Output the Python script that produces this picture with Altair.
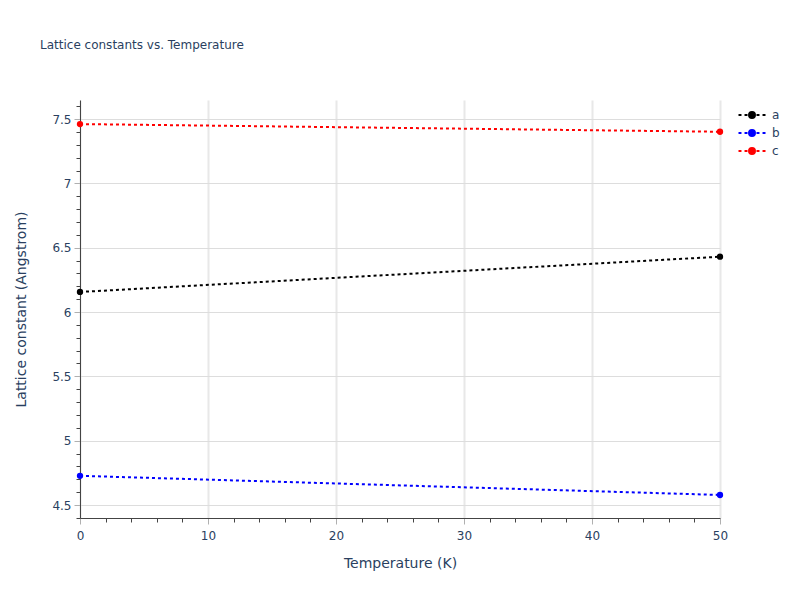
import altair as alt
import pandas as pd

temperature = [0, 50]
a_vals = [6.156, 6.430]
b_vals = [4.727, 4.578]
c_vals = [7.461, 7.401]
series_names = ["a", "b", "c"]
series_colors = ["black", "blue", "red"]

x_ticks = list(range(0, 51, 2))
y_ticks = [round(4.4 + 0.1 * i, 1) for i in range(33)]

rows = []
for name, vals in zip(series_names, [a_vals, b_vals, c_vals]):
    for t, v in zip(temperature, vals):
        rows.append({"Temperature": t, "value": v, "series": name})
df = pd.DataFrame(rows)

FONT = "DejaVu Sans"
TXT = "#2a3f5f"

LEGEND_SYMBOL = (
    "M-1.5,0L-1.17,0M-0.83,0L-0.5,0M0.5,0L0.83,0M1.17,0L1.5,0"
    "M-0.33,0A0.33,0.33,0,1,0,0.33,0A0.33,0.33,0,1,0,-0.33,0Z"
)

color = alt.Color(
    "series:N",
    scale=alt.Scale(domain=series_names, range=series_colors),
    legend=alt.Legend(
        title=None,
        orient="none",
        legendX=662,
        legendY=5,
        symbolType=LEGEND_SYMBOL,
        symbolSize=324,
        symbolStrokeWidth=2,
        labelFont=FONT,
        labelFontSize=12,
        labelColor=TXT,
        rowPadding=1,
        labelOffset=10,
    ),
)

MAJ_X = "datum.value % 10 === 0"
MAJ_Y = "abs(datum.value*2 - round(datum.value*2)) < 1e-6"

x_enc = alt.X(
    "Temperature:Q",
    scale=alt.Scale(domain=[0, 50], nice=False, zero=False),
    axis=alt.Axis(
        title="Temperature (K)",
        values=x_ticks,
        tickCount=200,
        labelOverlap=False,
        labelFlush=False,
        labelExpr=MAJ_X + " ? format(datum.value, '~g') : ''",
        tickSize={"condition": {"test": MAJ_X, "value": 6}, "value": 4},
        tickColor={"condition": {"test": MAJ_X, "value": "#b0b0b0"}, "value": "#444444"},
        gridOpacity={"condition": {"test": MAJ_X, "value": 1}, "value": 0},
        gridColor="#e8e8e8",
        gridWidth=2,
        domainColor="#444444",
        labelPadding=6,
        titleY=38,
        titleBaseline="top",
    ),
)

y_enc = alt.Y(
    "value:Q",
    scale=alt.Scale(domain=[4.399, 7.648], nice=False, zero=False),
    axis=alt.Axis(
        title="Lattice constant (Angstrom)",
        values=y_ticks,
        tickCount=200,
        labelOverlap=False,
        labelFlush=False,
        labelExpr=MAJ_Y + " ? format(datum.value, '~g') : ''",
        tickSize={"condition": {"test": MAJ_Y, "value": 6}, "value": 4},
        tickColor={"condition": {"test": MAJ_Y, "value": "#b0b0b0"}, "value": "#444444"},
        gridOpacity={"condition": {"test": MAJ_Y, "value": 1}, "value": 0},
        gridColor="#dddddd",
        gridWidth=1,
        domainColor="#444444",
        labelPadding=3,
        titleX=-52,
        titleY=209,
    ),
)

lines = alt.Chart(df).mark_line(strokeWidth=2, strokeDash=[3, 3]).encode(
    x=x_enc, y=y_enc, color=color, detail="series:N"
)
points = alt.Chart(df).mark_point(filled=True, size=40, opacity=1).encode(
    x="Temperature:Q", y="value:Q", color=color
)

chart = (
    alt.layer(lines, points)
    .properties(
        width=640,
        height=418,
        title=alt.Title(
            "Lattice constants vs. Temperature",
            anchor="start",
            frame="group",
            dx=-40,
            offset=48,
            font=FONT,
            fontSize=12,
            fontWeight="normal",
            color=TXT,
        ),
        padding={"left": 72, "top": 92, "right": 72, "bottom": 74},
        autosize=alt.AutoSizeParams(type="none"),
    )
    .configure_view(stroke=None)
    .configure_axis(
        labelFont=FONT,
        labelFontSize=12,
        labelColor=TXT,
        titleFont=FONT,
        titleFontSize=14,
        titleFontWeight="normal",
        titleColor=TXT,
    )
)

chart.save("out.html", embed_options={"renderer": "svg", "actions": False})
